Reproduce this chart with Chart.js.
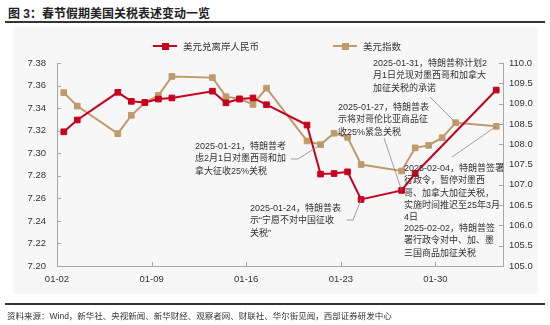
<!DOCTYPE html>
<html>
<head>
<meta charset="utf-8">
<script src="https://cdn.jsdelivr.net/npm/chart.js@4/dist/chart.umd.min.js"></script>
<style>
    body { margin: 0; background: #fff; }
    #wrap { position: relative; width: 550px; height: 325px; overflow: hidden;
            font-family: "Liberation Sans", "Noto Sans CJK SC", sans-serif; color: #333; }
    .title { position: absolute; left: 8px; top: 4px; font-size: 12px; font-weight: bold; color: #222; }
    .rule { position: absolute; left: 5px; width: 540px; background: #333; }
    .panel { position: absolute; left: 13px; top: 27px; width: 525px; height: 267px; background: #f7f7f7; }
    canvas { position: absolute; left: 0; top: 0; }
    .legend { position: absolute; font-size: 9.5px; line-height: 12px; white-space: nowrap; color: #333; }
    .legend .mk { display: inline-block; position: relative; width: 24px; height: 2px; vertical-align: middle; margin-right: 6px; top: -1px; }
    .legend .mk::after { content: ""; position: absolute; left: 9px; top: -2.5px; width: 7px; height: 7px; background: inherit; }
    .note { position: absolute; font-size: 9px; line-height: 12.3px; white-space: pre; color: #333; }
    .source { position: absolute; left: 7px; top: 309px; font-size: 8.5px; color: #333; white-space: nowrap; }
</style>
</head>
<body>
<div id="wrap">
    <div class="title">图 3：春节假期美国关税表述变动一览</div>
    <div class="rule" style="top:21px;height:2px"></div>
    <div class="panel"></div>
    <canvas id="chart" width="550" height="325"></canvas>
    <div class="rule" style="top:303px;height:1.5px"></div>
    <div class="source">资料来源：Wind，新华社、央视新闻、新华财经、观察者网、财联社、华尔街见闻，西部证券研发中心</div>
</div>
<script>
// trading days shown in the chart (2025)
const dates = ['01-02', '01-03', '01-06', '01-07', '01-08', '01-09', '01-10', '01-13', '01-14', '01-15',
               '01-16', '01-17', '01-20', '01-21', '01-22', '01-23', '01-24', '01-27', '01-28', '01-29',
               '01-30', '01-31', '02-03'];

// USD / offshore CNY (left axis), no quotes during the holiday
const usdCnh = [7.319, 7.3295, 7.354, 7.346, 7.345, 7.348, 7.349, 7.355, 7.3447, 7.348,
                7.349, 7.343, 7.325, 7.2815, 7.282, 7.2835, 7.259, 7.267, 7.282, null,
                null, null, 7.356];

// US dollar index (right axis)
const dxy = [109.27, 108.94, 108.26, 108.71, 109.02, 109.20, 109.67, 109.64, 109.17, 109.12,
             108.98, 109.38, 108.08, 107.99, 108.27, 108.17, 107.50, 107.34, 107.91, 107.97,
             108.16, 108.53, 108.44];

const xTickLabels = ['01-02', '01-09', '01-16', '01-23', '01-30'];
const leftTicks = [7.20, 7.22, 7.24, 7.26, 7.28, 7.30, 7.32, 7.34, 7.36, 7.38];
const rightTicks = [105.0, 105.5, 106.0, 106.5, 107.0, 107.5, 108.0, 108.5, 109.0, 109.5, 110.0];
const axisEnd = '02-04';

const seriesNames = ['美元兑离岸人民币', '美元指数'];

// annotation boxes; the leader line ends on a data point
const notes = [
    { lines: ['2025-01-21，特朗普考', '虑2月1日对墨西哥和加', '拿大征收25%关税'],
      left: 195, top: 140, from: [291, 159], elbow: [298, 159], series: 1, date: '01-21' },
    { lines: ['2025-01-24，特朗普表', '示“宁愿不对中国征收', '关税”'],
      left: 250, top: 202, from: [347, 220], elbow: [353, 220], series: 0, date: '01-24' },
    { lines: ['2025-01-27，特朗普表', '示将对哥伦比亚商品征', '收25%紧急关税'],
      left: 338, top: 101, from: [384, 138], series: 0, date: '01-27' },
    { lines: ['2025-01-31，特朗普称计划2', '月1日兑现对墨西哥和加拿大', '加征关税的承诺'],
      left: 373, top: 57, from: [430, 97], series: 1, date: '01-31' },
    { lines: ['2025-02-04，特朗普签署', '行政令，暂停对墨西', '哥、加拿大加征关税，', '实施时间推迟至25年3月', '4日'],
      left: 404, top: 162, from: [452, 157], series: 1, date: '02-03' },
    { lines: ['2025-02-02，特朗普签', '署行政令对中、加、墨', '三国商品加征关税'],
      left: 404, top: 222 }
];

const RED = '#c8001e';
const TAN = '#bf9a6c';
const AXIS = '#a6a6a6';

document.addEventListener('DOMContentLoaded', function() {
    const wrap = document.getElementById('wrap');
    const base = Date.UTC(2025, 0, 2);

    function dayOf(md) {
        const [m, d] = md.split('-').map(Number);
        return (Date.UTC(2025, m - 1, d) - base) / 86400000;
    }

    // points sit in the middle of their day, labels on the day boundary
    function toPoints(values) {
        return dates.map((d, i) => ({ x: dayOf(d) + 0.5, y: values[i] }));
    }

    // legend
    const legendPos = [[153, 41], [333, 41]];
    [RED, TAN].forEach((c, i) => {
        const div = document.createElement('div');
        div.className = 'legend';
        div.style.left = legendPos[i][0] + 'px';
        div.style.top = legendPos[i][1] + 'px';
        div.innerHTML = '<span class="mk" style="background:' + c + '"></span>' + seriesNames[i];
        wrap.appendChild(div);
    });

    // annotation texts
    notes.forEach(n => {
        const div = document.createElement('div');
        div.className = 'note';
        div.style.left = n.left + 'px';
        div.style.top = n.top + 'px';
        div.textContent = n.lines.join('\n');
        wrap.appendChild(div);
    });

    // inward tick marks + leader lines
    const extras = {
        id: 'extras',
        afterDraw(chart) {
            const ctx = chart.ctx;
            const a = chart.chartArea;
            const sx = chart.scales.x, yl = chart.scales.yL, yr = chart.scales.yR;
            ctx.save();
            ctx.strokeStyle = AXIS;
            ctx.lineWidth = 1;
            ctx.beginPath();
            sx.ticks.forEach(t => {
                const p = Math.round(sx.getPixelForValue(t.value)) + 0.5;
                ctx.moveTo(p, a.bottom); ctx.lineTo(p, a.bottom - 4);
            });
            yl.ticks.forEach(t => {
                const p = Math.round(yl.getPixelForValue(t.value)) + 0.5;
                ctx.moveTo(a.left, p); ctx.lineTo(a.left + 4, p);
            });
            yr.ticks.forEach(t => {
                const p = Math.round(yr.getPixelForValue(t.value)) + 0.5;
                ctx.moveTo(a.right, p); ctx.lineTo(a.right - 4, p);
            });
            ctx.stroke();

            ctx.strokeStyle = '#8a8a8a';
            ctx.lineWidth = 0.8;
            notes.forEach(n => {
                if (!n.date) return;
                const i = dates.indexOf(n.date);
                const vals = n.series === 0 ? usdCnh : dxy;
                const ys = n.series === 0 ? yl : yr;
                const px = sx.getPixelForValue(dayOf(n.date) + 0.5);
                const py = ys.getPixelForValue(vals[i]);
                ctx.beginPath();
                ctx.moveTo(n.from[0], n.from[1]);
                if (n.elbow) ctx.lineTo(n.elbow[0], n.elbow[1]);
                ctx.lineTo(px, py);
                ctx.stroke();
            });
            ctx.restore();
        }
    };

    const tickFont = { family: '"Liberation Sans", sans-serif', size: 9.5 };

    new Chart(document.getElementById('chart').getContext('2d'), {
        type: 'line',
        data: {
            datasets: [{
                label: seriesNames[0],
                data: toPoints(usdCnh),
                yAxisID: 'yL',
                borderColor: RED,
                backgroundColor: RED,
                borderWidth: 2,
                pointStyle: 'rect',
                pointRadius: 4,
                pointBorderWidth: 1,
                spanGaps: true,
                tension: 0
            }, {
                label: seriesNames[1],
                data: toPoints(dxy),
                yAxisID: 'yR',
                borderColor: TAN,
                backgroundColor: TAN,
                borderWidth: 2,
                pointStyle: 'rect',
                pointRadius: 4,
                pointBorderWidth: 1,
                tension: 0
            }]
        },
        options: {
            responsive: false,
            animation: false,
            layout: { padding: { top: 63, left: 0, right: 0, bottom: 0 } },
            plugins: {
                legend: { display: false },
                tooltip: { enabled: false }
            },
            scales: {
                x: {
                    type: 'linear',
                    min: 0,
                    max: dayOf(axisEnd),
                    afterBuildTicks: s => { s.ticks = xTickLabels.map(l => ({ value: dayOf(l) })); },
                    afterFit: s => { s.height = 59; },
                    grid: { drawOnChartArea: false, drawTicks: false },
                    border: { color: AXIS },
                    ticks: {
                        padding: 8,
                        color: '#333',
                        font: tickFont,
                        maxRotation: 0,
                        callback: v => xTickLabels.find(l => dayOf(l) === v) || ''
                    }
                },
                yL: {
                    position: 'left',
                    min: 7.20,
                    max: 7.38,
                    afterBuildTicks: s => { s.ticks = leftTicks.map(v => ({ value: v })); },
                    afterFit: s => { s.width = 57; },
                    grid: { drawOnChartArea: false, drawTicks: false },
                    border: { color: AXIS },
                    ticks: { padding: 11, color: '#333', font: tickFont, callback: v => v.toFixed(2) }
                },
                yR: {
                    position: 'right',
                    min: 105,
                    max: 110,
                    afterBuildTicks: s => { s.ticks = rightTicks.map(v => ({ value: v })); },
                    afterFit: s => { s.width = 47; },
                    grid: { drawOnChartArea: false, drawTicks: false },
                    border: { color: AXIS },
                    ticks: { padding: 6, color: '#333', font: tickFont, callback: v => v.toFixed(1) }
                }
            }
        },
        plugins: [extras]
    });
});
</script>
</body>
</html>
